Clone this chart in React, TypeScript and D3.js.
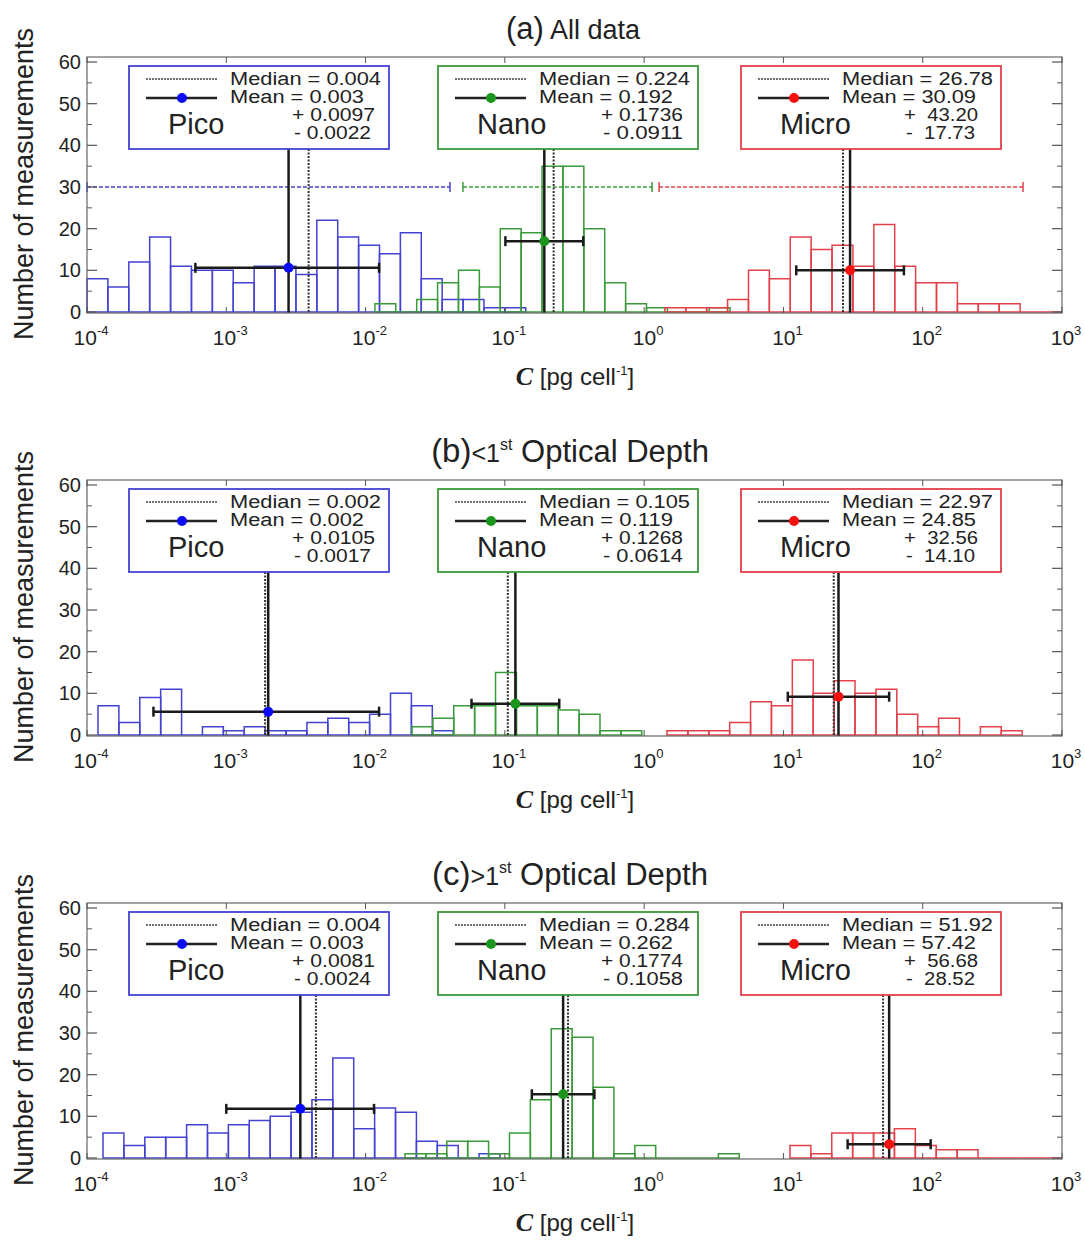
import React from 'react';
import * as d3 from 'd3';

// histogram bins are 0.15 decade wide in log10(C)
const binWidth = 0.15;
const groups = ['Pico', 'Nano', 'Micro'];
const xTickExps = [-4, -3, -2, -1, 0, 1, 2, 3];
const yTicks = [0, 10, 20, 30, 40, 50, 60];

const panelLetters = ['(a)', '(b)', '(c)'];

// (a) All data
const picoStartA = -4.0;
const picoCountsA = [8, 6, 12, 18, 11, 10, 10, 7, 11, 11, 9, 22, 18, 16, 14, 19, 8, 3, 3, 1, 1];
const nanoStartA = -1.933;
const nanoCountsA = [2, 0, 3, 7, 10, 6, 20, 19, 35, 35, 20, 7, 2, 1, 0, 0, 1];
const microStartA = 0.149;
const microCountsA = [1, 1, 1, 3, 10, 8, 18, 15, 16, 11, 21, 11, 7, 7, 2, 2, 2, 0, 0];
const medianA = [0.0039, 0.224, 26.78];
const meanA = [0.0028, 0.192, 30.09];
const plusA = [0.0097, 0.1736, 43.2];
const minusA = [0.0022, 0.0911, 17.73];
const medianTextA = ['0.004', '0.224', '26.78'];
const meanTextA = ['0.003', '0.192', '30.09'];
const plusTextA = ['0.0097', '0.1736', '43.20'];
const minusTextA = ['0.0022', '0.0911', '17.73'];
const errYA = [10.6, 17, 10];
const rangeMinA = [1e-4, 0.05, 1.28];
const rangeMaxA = [0.0404, 1.14, 525];
const rangeLevelA = 30;

// (b) < 1st optical depth
const picoStartB = -3.921;
const picoCountsB = [7, 3, 9, 11, 0, 2, 1, 2, 1, 1, 3, 4, 3, 5, 10, 7, 1];
const nanoStartB = -1.667;
const nanoCountsB = [2, 4, 7, 7, 15, 7, 7, 6, 5, 1, 1];
const microStartB = 0.164;
const microCountsB = [1, 1, 1, 3, 8, 7, 18, 10, 13, 10, 11, 5, 2, 4, 0, 2, 1];
const medianB = [0.0019, 0.105, 22.97];
const meanB = [0.002, 0.119, 24.85];
const plusB = [0.0105, 0.1268, 32.56];
const minusB = [0.0017, 0.0614, 14.1];
const medianTextB = ['0.002', '0.105', '22.97'];
const meanTextB = ['0.002', '0.119', '24.85'];
const plusTextB = ['0.0105', '0.1268', '32.56'];
const minusTextB = ['0.0017', '0.0614', '14.10'];
const errYB = [5.6, 7.5, 9.2];

// (c) > 1st optical depth
const picoStartC = -3.885;
const picoCountsC = [6, 3, 5, 5, 8, 6, 8, 9, 10, 11, 14, 24, 7, 12, 11, 4, 3, 0, 1];
const nanoStartC = -1.717;
const nanoCountsC = [1, 1, 4, 4, 1, 6, 14, 31, 29, 17, 1, 3, 0, 0, 0, 1];
const microStartC = 1.047;
const microCountsC = [3, 1, 6, 6, 6, 7, 3, 2, 2, 0, 0, 0, 0];
const medianC = [0.0044, 0.284, 51.92];
const meanC = [0.0034, 0.262, 57.42];
const plusC = [0.0081, 0.1774, 56.68];
const minusC = [0.0024, 0.1058, 28.52];
const medianTextC = ['0.004', '0.284', '51.92'];
const meanTextC = ['0.003', '0.262', '57.42'];
const plusTextC = ['0.0081', '0.1774', '56.68'];
const minusTextC = ['0.0024', '0.1058', '28.52'];
const errYC = [11.8, 15.3, 3.3];

const panels = [
  { starts: [picoStartA, nanoStartA, microStartA], counts: [picoCountsA, nanoCountsA, microCountsA],
    median: medianA, mean: meanA, plus: plusA, minus: minusA,
    medianText: medianTextA, meanText: meanTextA, plusText: plusTextA, minusText: minusTextA, errY: errYA },
  { starts: [picoStartB, nanoStartB, microStartB], counts: [picoCountsB, nanoCountsB, microCountsB],
    median: medianB, mean: meanB, plus: plusB, minus: minusB,
    medianText: medianTextB, meanText: meanTextB, plusText: plusTextB, minusText: minusTextB, errY: errYB },
  { starts: [picoStartC, nanoStartC, microStartC], counts: [picoCountsC, nanoCountsC, microCountsC],
    median: medianC, mean: meanC, plus: plusC, minus: minusC,
    medianText: medianTextC, meanText: meanTextC, plusText: plusTextC, minusText: minusTextC, errY: errYC },
];

const histColors = ['#4343d2', '#3a9a3a', '#e3404a'];
const dotColors = ['#0b0bf5', '#1c951c', '#f51010'];
const FONT = "'Liberation Sans', Arial, Helvetica, sans-serif";

const W = 1085, H = 1243;
const plotLeft = 87, plotRight = 1062;
const panelTops = [57, 480, 903];
const plotH = 256;
const boxX = [129, 438, 741];
const boxW = 260, boxH = 83, boxTop = 9;
// the legend lettering is wide and squat in the original
const plusLen = [83, 82, 74];
const minusLen = [77, 80, 69];

const x = d3.scaleLog().domain([1e-4, 1e3]).range([plotLeft, plotRight]);

function Title({ idx, cy }: { idx: number; cy: number }) {
  if (idx === 0) {
    return (
      <text x={573} y={cy} textAnchor="middle" fontFamily={FONT} fill="#222">
        <tspan fontSize={31}>{panelLetters[idx]}</tspan>
        <tspan fontSize={27}> All data</tspan>
      </text>
    );
  }
  return (
    <text x={570} y={cy} textAnchor="middle" fontFamily={FONT} fill="#222">
      <tspan fontSize={33}>{panelLetters[idx]}</tspan>
      <tspan fontSize={25}>{idx === 1 ? '<1' : '>1'}</tspan>
      <tspan fontSize={16} dy={-12}>st</tspan>
      <tspan fontSize={31} dy={12}> Optical Depth</tspan>
    </text>
  );
}

function Panel({ idx }: { idx: number }) {
  const p = panels[idx];
  const top = panelTops[idx];
  const bottom = top + plotH;
  const y = d3.scaleLinear().domain([0, 60]).range([bottom - 1, top + 5]);
  const minorY = d3.range(5, 60, 10);

  return (
    <g>
      <Title idx={idx} cy={top - 18} />

      {/* histograms */}
      {p.counts.map((cs, g) => (
        <g key={'h' + g} fill="none" stroke={histColors[g]} strokeWidth={1.5}>
          {cs.map((c, i) => {
            const x0 = x(Math.pow(10, p.starts[g] + i * binWidth));
            const x1 = x(Math.pow(10, p.starts[g] + (i + 1) * binWidth));
            const yt = y(c);
            return <path key={i} d={`M${x0},${y(0)}V${yt}H${x1}V${y(0)}Z`} />;
          })}
        </g>
      ))}

      {/* min-max range lines (panel a only) */}
      {idx === 0 && groups.map((g, i) => {
        const yy = y(rangeLevelA);
        const a = x(rangeMinA[i]);
        const b = x(rangeMaxA[i]);
        return (
          <g key={'r' + i} stroke={histColors[i]} strokeWidth={1.5}>
            <line x1={a} x2={b} y1={yy} y2={yy} strokeDasharray="4,2" />
            <line x1={a} x2={a} y1={yy - 5} y2={yy + 5} />
            <line x1={b} x2={b} y1={yy - 5} y2={yy + 5} />
          </g>
        );
      })}

      {/* median and mean lines */}
      {groups.map((g, i) => (
        <g key={'v' + i}>
          <line x1={x(p.median[i])} x2={x(p.median[i])} y1={top + boxTop + boxH} y2={bottom}
            stroke="#333" strokeWidth={2} strokeDasharray="2,1.5" />
          <line x1={x(p.mean[i])} x2={x(p.mean[i])} y1={top + boxTop + boxH} y2={bottom}
            stroke="#1a1a1a" strokeWidth={2.5} />
        </g>
      ))}

      {/* error bars */}
      {groups.map((g, i) => {
        const a = x(p.mean[i] - p.minus[i]);
        const b = x(p.mean[i] + p.plus[i]);
        const yy = y(p.errY[i]);
        return (
          <g key={'e' + i} stroke="#1a1a1a" strokeWidth={2.5}>
            <line x1={a} x2={b} y1={yy} y2={yy} />
            <line x1={a} x2={a} y1={yy - 5} y2={yy + 5} />
            <line x1={b} x2={b} y1={yy - 5} y2={yy + 5} />
            <circle cx={x(p.mean[i])} cy={yy} r={5} fill={dotColors[i]} stroke="none" />
          </g>
        );
      })}

      {/* frame */}
      <rect x={plotLeft} y={top} width={plotRight - plotLeft} height={plotH} fill="none" stroke="#666" strokeWidth={1.2} />

      {/* y ticks */}
      {yTicks.map(v => (
        <g key={'yt' + v} stroke="#555" strokeWidth={1.2}>
          <line x1={plotLeft} x2={plotLeft + 10} y1={y(v)} y2={y(v)} />
          <line x1={plotRight} x2={plotRight - 10} y1={y(v)} y2={y(v)} />
        </g>
      ))}
      {minorY.map(v => (
        <g key={'ym' + v} stroke="#555" strokeWidth={1}>
          <line x1={plotLeft} x2={plotLeft + 5} y1={y(v)} y2={y(v)} />
          <line x1={plotRight} x2={plotRight - 5} y1={y(v)} y2={y(v)} />
        </g>
      ))}
      {yTicks.map(v => (
        <text key={'yl' + v} x={81} y={y(v) + 7} textAnchor="end" fontFamily={FONT} fontSize={20} fill="#222">{v}</text>
      ))}

      {/* x ticks */}
      {xTickExps.map(e => (
        <g key={'xt' + e}>
          <line x1={x(Math.pow(10, e))} x2={x(Math.pow(10, e))} y1={bottom} y2={bottom - 6} stroke="#555" />
          <line x1={x(Math.pow(10, e))} x2={x(Math.pow(10, e))} y1={top} y2={top + 6} stroke="#555" />
          <text x={x(Math.pow(10, e)) + 4} y={bottom + 32} textAnchor="middle" fontFamily={FONT} fill="#222">
            <tspan fontSize={21}>10</tspan>
            <tspan fontSize={13} dy={-10}>{e}</tspan>
          </text>
        </g>
      ))}

      {/* x axis title */}
      <text x={575} y={bottom + 72} textAnchor="middle" fontFamily={FONT} fontSize={24} fill="#222">
        <tspan fontFamily="'Liberation Serif', 'DejaVu Serif', serif" fontStyle="italic" fontWeight="bold" fontSize={26}>C</tspan>
        <tspan> [pg cell</tspan>
        <tspan fontSize={13} dy={-10}>-1</tspan>
        <tspan dy={10}>]</tspan>
      </text>

      {/* y axis title */}
      <text transform={`translate(33,${top + plotH / 2 - 1}) rotate(-90)`} textAnchor="middle" fontFamily={FONT} fontSize={27} fill="#222">
        Number of measurements
      </text>

      {/* legend boxes */}
      {groups.map((g, i) => {
        const bx = boxX[i];
        const by = top + boxTop;
        return (
          <g key={'lg' + i} fontFamily={FONT} fill="#222">
            <rect x={bx} y={by} width={boxW} height={boxH} fill="#fff" stroke={histColors[i]} strokeWidth={1.8} />
            <line x1={bx + 17} x2={bx + 88} y1={by + 13} y2={by + 13} stroke="#444" strokeWidth={1.5} strokeDasharray="2,1" />
            <line x1={bx + 17} x2={bx + 88} y1={by + 32} y2={by + 32} stroke="#222" strokeWidth={2.5} />
            <circle cx={bx + 53} cy={by + 32} r={5} fill={dotColors[i]} />
            <text x={bx + 101} y={by + 19} fontSize={18} textLength={151} lengthAdjust="spacingAndGlyphs">Median = {p.medianText[i]}</text>
            <text x={bx + 101} y={by + 37} fontSize={18} textLength={134} lengthAdjust="spacingAndGlyphs">Mean = {p.meanText[i]}</text>
            <text x={bx + 39} y={by + 68} fontSize={29}>{g}</text>
            <text x={bx + 163} y={by + 55} fontSize={18} textLength={plusLen[i]} lengthAdjust="spacingAndGlyphs">{'+ ' + (i === 2 ? '\u00a0' : '') + p.plusText[i]}</text>
            <text x={bx + 165} y={by + 73} fontSize={18} textLength={minusLen[i]} lengthAdjust="spacingAndGlyphs">{'- ' + (i === 2 ? '\u00a0' : '') + p.minusText[i]}</text>
          </g>
        );
      })}
    </g>
  );
}

export default function App() {
  return (
    <svg width={W} height={H} style={{ position: 'absolute', left: 0, top: 0, background: '#fff' }}>
      <rect width={W} height={H} fill="#fff" />
      {panels.map((_, i) => <Panel key={i} idx={i} />)}
    </svg>
  );
}
